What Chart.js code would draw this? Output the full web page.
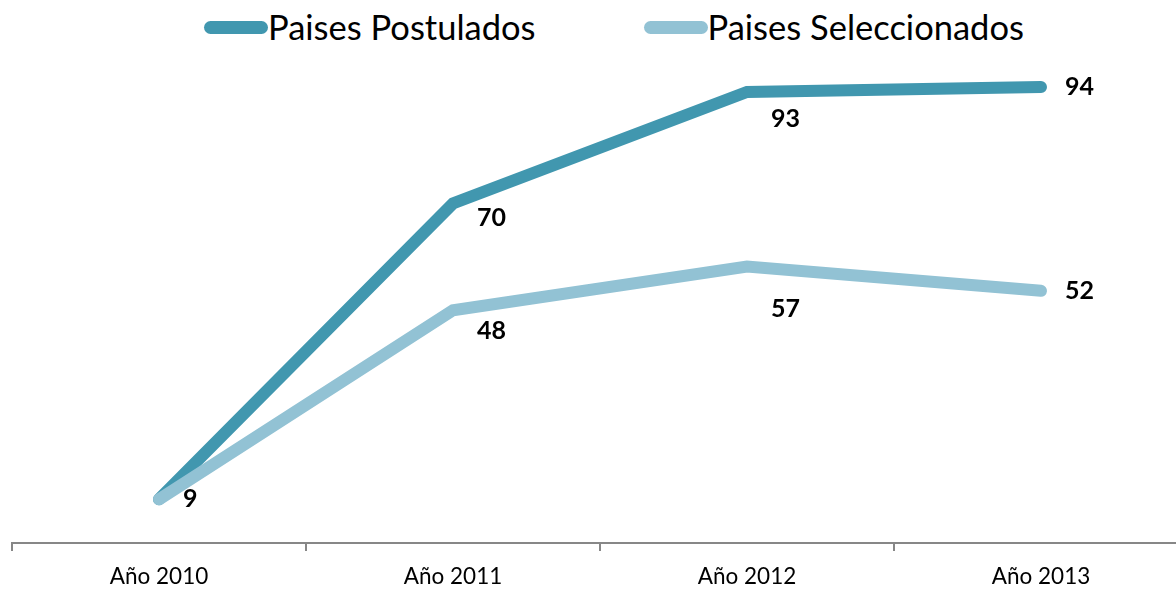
<!DOCTYPE html>
<html>
<head>
<meta charset="utf-8">
<script src="https://cdn.jsdelivr.net/npm/chart.js@4.4.1/dist/chart.umd.min.js"></script>
<style>
  html, body { margin: 0; padding: 0; background: #fff; overflow: hidden; }
  #wrap { position: relative; width: 1176px; height: 592px; overflow: hidden; }
  #chart { position: absolute; left: 0; top: 0; }
  #legend {
    position: absolute; left: 204px; top: 6px; margin: 0; padding: 0;
    list-style: none; display: flex; align-items: center;
    font-family: Lato, "Open Sans", sans-serif; font-size: 34.5px; color: #000;
  }
  #legend li { display: flex; align-items: center; margin-right: 108px; line-height: 42px; }
  #legend .swatch { display: block; width: 64px; height: 13px; border-radius: 7px; }
</style>
</head>
<body>
<div id="wrap">
  <ul id="legend"></ul>
  <canvas id="chart" width="1190" height="602"></canvas>
</div>
<script>
const years = ['Año 2010', 'Año 2011', 'Año 2012', 'Año 2013'];
const postulados = [9, 70, 93, 94];
const seleccionados = [9, 48, 57, 52];
const seriesNames = ['Paises Postulados', 'Paises Seleccionados'];

// label nudges below the point, per point (px)
const postuladosDy = [0, 14, 27, 0];
const seleccionadosDy = [0, 21, 42, 0];

const dark = '#4197AF';
const light = '#92C2D4';

const valueLabels = {
  id: 'valueLabels',
  afterDatasetsDraw(c) {
    const ctx = c.ctx;
    const offsets = [postuladosDy, seleccionadosDy];
    const seen = {};
    ctx.save();
    ctx.font = 'bold 25px Lato, "Open Sans", sans-serif';
    ctx.fillStyle = '#000';
    ctx.textAlign = 'left';
    ctx.textBaseline = 'middle';
    c.data.datasets.forEach((ds, di) => {
      const meta = c.getDatasetMeta(di);
      meta.data.forEach((pt, i) => {
        const x = pt.x + 24;
        const y = pt.y + offsets[di][i];
        const key = Math.round(x) + ':' + Math.round(y) + ':' + ds.data[i];
        if (seen[key]) return;
        seen[key] = true;
        ctx.fillText(String(ds.data[i]), x, y);
      });
    });
    ctx.restore();
  }
};

const chart = new Chart(document.getElementById('chart'), {
  type: 'line',
  data: {
    labels: years,
    datasets: [
      {
        label: seriesNames[0],
        data: postulados,
        borderColor: dark,
        backgroundColor: dark,
        order: 1
      },
      {
        label: seriesNames[1],
        data: seleccionados,
        borderColor: light,
        backgroundColor: light,
        order: 0
      }
    ]
  },
  options: {
    responsive: false,
    animation: false,
    devicePixelRatio: 1,
    layout: {
      padding: { top: 58, left: 12, right: 2, bottom: 0 }
    },
    elements: {
      line: {
        borderWidth: 12,
        tension: 0,
        borderCapStyle: 'round',
        borderJoinStyle: 'miter'
      },
      point: { radius: 0, hoverRadius: 0 }
    },
    scales: {
      x: {
        offset: true,
        border: { display: true, color: '#878787', width: 2 },
        grid: {
          offset: true,
          drawOnChartArea: false,
          drawTicks: true,
          tickLength: 8,
          color: '#878787',
          lineWidth: 2
        },
        ticks: {
          color: '#000',
          padding: 12,
          maxRotation: 0,
          font: { family: 'Lato, "Open Sans", sans-serif', size: 22.5 }
        }
      },
      y: {
        display: false,
        min: 0,
        max: 100
      }
    },
    plugins: {
      legend: { display: false },
      tooltip: { enabled: false }
    }
  },
  plugins: [valueLabels]
});

// html legend
const ul = document.getElementById('legend');
chart.data.datasets.forEach((ds) => {
  const li = document.createElement('li');
  const box = document.createElement('span');
  box.className = 'swatch';
  box.style.background = ds.borderColor;
  const label = document.createElement('span');
  label.textContent = ds.label;
  li.appendChild(box);
  li.appendChild(label);
  ul.appendChild(li);
});
</script>
</body>
</html>
